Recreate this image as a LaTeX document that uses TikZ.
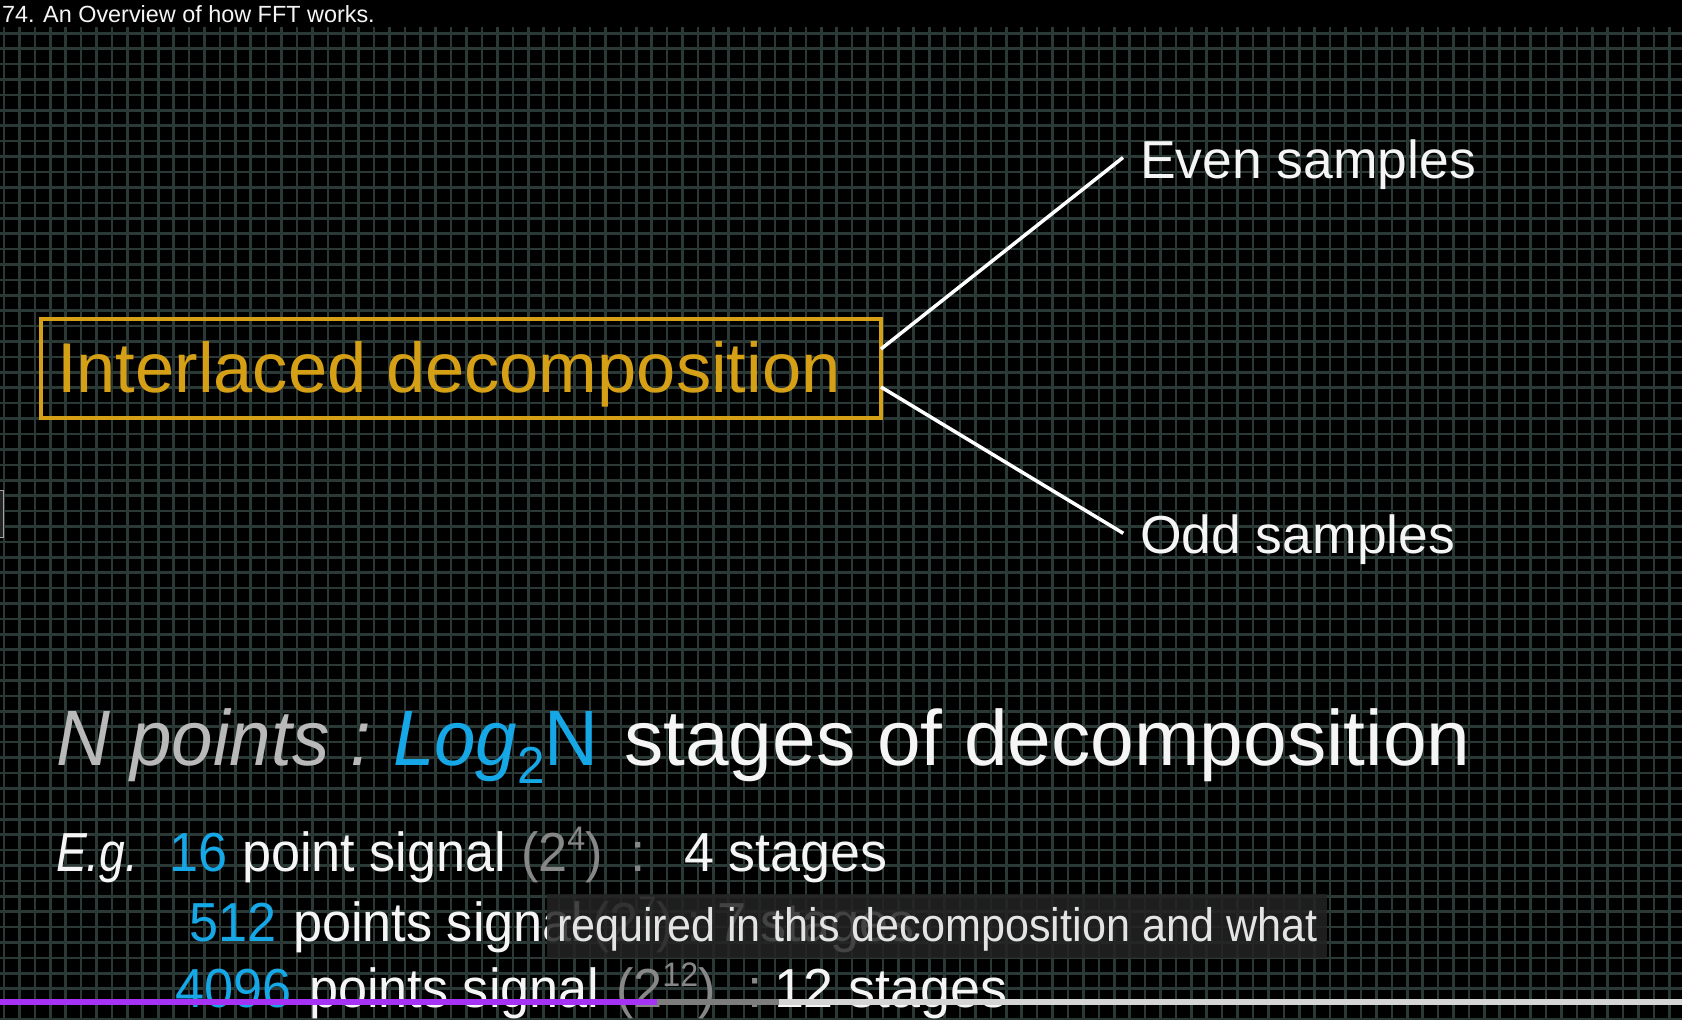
\documentclass[tikz,border=0pt]{standalone}
\usepackage{fontspec}
\setmainfont{Liberation Sans}
\usepackage{graphicx}
\definecolor{gridc}{RGB}{42,56,54}
\definecolor{gold}{RGB}{214,160,22}
\definecolor{fftblue}{RGB}{22,168,230}
\definecolor{ltgray}{RGB}{185,185,185}
\definecolor{dkgray}{RGB}{135,135,135}
\definecolor{txtw}{RGB}{245,245,245}
\definecolor{subbg}{RGB}{36,36,36}
\definecolor{subtxt}{RGB}{228,228,228}
\definecolor{barpurple}{RGB}{165,50,245}
\definecolor{barmid}{RGB}{125,125,125}
\definecolor{barlight}{RGB}{212,212,212}
\newcommand{\fsz}[1]{\fontsize{#1}{#1}\selectfont}
\newcommand{\sx}[2][0.95]{\scalebox{#1}[1]{#2}}
\begin{document}
\begin{tikzpicture}[x=1pt,y=-1pt,
  txt/.style={anchor=base west,inner sep=0pt,outer sep=0pt},
  conn/.style={draw=white,line width=3.5pt},
  gridline/.style={draw=gridc,line width=2.6pt},
  body/.style={txt,font=\fsz{55}}]
\useasboundingbox (0,0) rectangle (1682,1020);
\fill[black] (0,0) rectangle (1682,1020);
\foreach \i in {0,...,109} \draw[gridline] ({4+15.42*\i},27) -- ({4+15.42*\i},1020);
\foreach \j in {2,...,66} \draw[gridline] (0,{2.5+15.41*\j}) -- (1682,{2.5+15.41*\j});

% title
\node[txt,text=txtw,font=\fsz{23.4}] (title) at (2,22.5) {74. An Overview of how FFT works.};

% box
\node[draw=gold,line width=4pt,minimum width=840pt,minimum height=99.5pt,inner sep=0pt,outer sep=0pt,anchor=north west] (box) at (41,318.5) {};
\node[txt,text=gold,font=\fsz{70.5}] (boxtext) at (57,392) {Interlaced decomposition};

% branches
\node[txt,text=txtw,font=\fsz{53.5}] (even) at (1140,178) {Even samples};
\node[txt,text=txtw,font=\fsz{53.5}] (odd) at (1140,553) {Odd samples};
\coordinate (evenend) at (1123,157.5);
\coordinate (oddend) at (1123.3,533.3);
\draw[conn] ([yshift=-30.5pt]box.north east) -- (evenend);
\draw[conn] ([yshift=-68.5pt]box.north east) -- (oddend);

% heading
\node[txt,text=ltgray,font=\fsz{78.5}\itshape] (np) at (56,765) {\sx[0.95]{N points :}};
\node[txt,text=fftblue,font=\fsz{78.5}] (log) at (393,765) {\sx{\textit{Log}\raisebox{-18pt}{\fsz{52}2}N}};
\node[txt,text=txtw,font=\fsz{78.5}] (stages) at (624,765) {stages of decomposition};

% line 1
\node[body,text=txtw,font=\fsz{55}\itshape] (eg) at (56,871) {\sx[0.84]{E.g.}};
\node[body,text=fftblue] (n16) at (169.5,871) {\sx{16}};
\node[body,text=txtw] (ps1) at (242,871) {\sx{point signal}};
\node[body,text=dkgray] (pw1) at (521,871) {\sx{(2\raisebox{21pt}{\fsz{34}4})}};
\node[body,text=dkgray] (c1) at (630,871) {:};
\node[body,text=txtw] (st1) at (684,871) {\sx[0.98]{4 stages}};

% line 2
\node[body,text=fftblue] (n512) at (189,941) {\sx{512}};
\node[body,text=txtw] (ps2) at (293,941) {\sx{points signal}};
\node[body,text=dkgray] (pw2) at (592,941) {\sx{(2\raisebox{21pt}{\fsz{34}7})}};
\node[body,text=dkgray] (c2) at (686,941) {:};
\node[body,text=txtw] (st2) at (717,941) {\sx{7 stages}};

% line 3
\node[body,text=fftblue] (n4096) at (175,1007) {\sx{4096}};
\node[body,text=txtw] (ps3) at (309,1007) {\sx{points signal}};
\node[body,text=dkgray] (pw3) at (616,1007) {\sx{(2\raisebox{21pt}{\fsz{34}12})}};
\node[body,text=dkgray] (c3) at (747,1007) {:};
\node[body,text=txtw] (st3) at (774,1007) {\sx[0.98]{12 stages}};

% caption
\node[fill=subbg,fill opacity=0.85,minimum width=780pt,minimum height=64pt,anchor=north west,inner sep=0pt,outer sep=0pt] (capbox) at (547,894) {};
\node[txt,text=subtxt,font=\fsz{47}] (cap) at (557,941) {\sx[0.918]{required in this decomposition and what}};

% progress bar
\fill[barpurple] (0,999) rectangle (657,1005);
\fill[barmid] (657,999) rectangle (779,1005);
\fill[barlight] (779,999) rectangle (1682,1005);

% left edge tab
\draw[draw=gray!70,fill=subbg,line width=1pt] (-2,490) rectangle (3.5,537);
\end{tikzpicture}
\end{document}
